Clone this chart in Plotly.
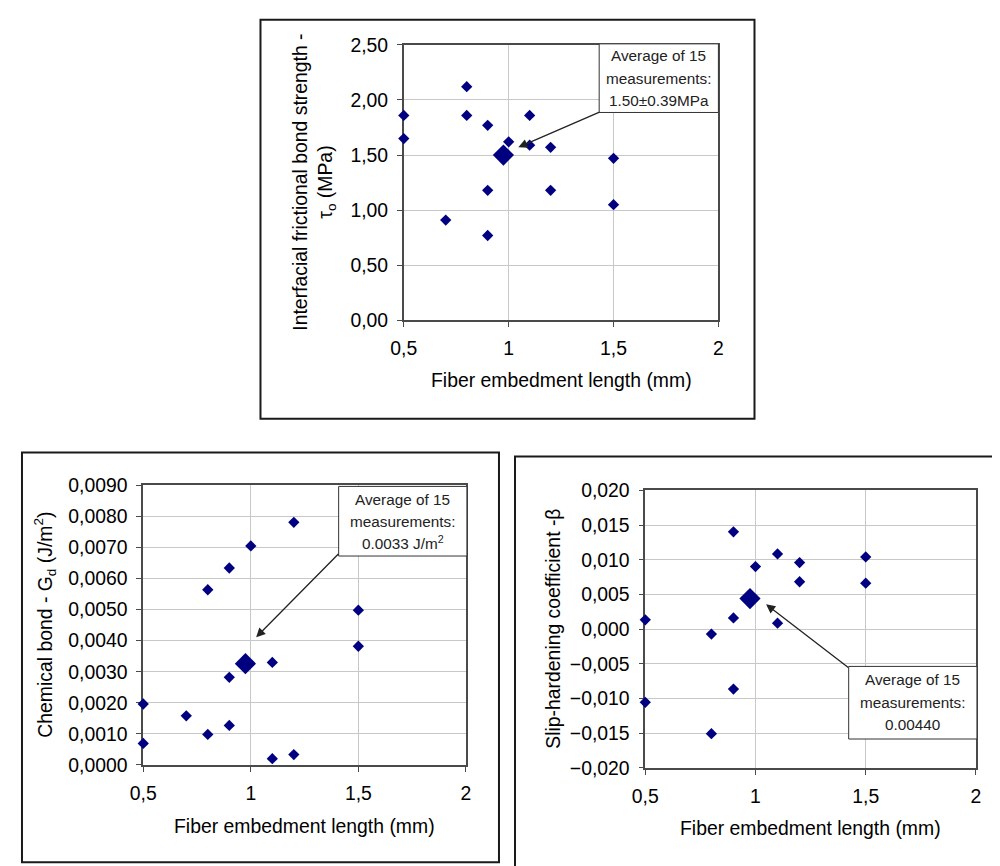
import plotly.graph_objects as go

W, H = 1000, 866

# ---------------- data ----------------
x_ticks = [0.5, 1, 1.5, 2]
x_ticklabels = ["0,5", "1", "1,5", "2"]

tau_x = [0.5, 0.5, 0.7, 0.8, 0.8, 0.9, 0.9, 0.9, 1.0, 1.1, 1.1, 1.2, 1.2, 1.5, 1.5]
tau_y = [1.86, 1.65, 0.91, 2.12, 1.86, 1.77, 1.18, 0.77, 1.62, 1.86, 1.59, 1.57, 1.18, 1.47, 1.05]
tau_avg_x = [0.975]
tau_avg_y = [1.50]

gd_x = [0.5, 0.5, 0.7, 0.8, 0.8, 0.9, 0.9, 0.9, 1.0, 1.1, 1.1, 1.2, 1.2, 1.5, 1.5]
gd_y = [0.00196, 0.00069, 0.00158, 0.00564, 0.00098, 0.00634, 0.00282, 0.00127,
        0.00705, 0.00330, 0.00020, 0.00781, 0.00033, 0.00498, 0.00382]
gd_avg_x = [0.975]
gd_avg_y = [0.00326]

beta_x = [0.5, 0.5, 0.8, 0.8, 0.9, 0.9, 0.9, 1.0, 1.1, 1.1, 1.2, 1.2, 1.5, 1.5]
beta_y = [0.00134, -0.01055, -0.00072, -0.01508, 0.01403, 0.00162, -0.00864,
          0.00902, 0.01084, 0.00086, 0.00959, 0.00683, 0.01041, 0.00663]
beta_avg_x = [0.975]
beta_avg_y = [0.00440]

tau_box_lines = ["Average of 15", "measurements:", "1.50±0.39MPa"]
gd_box_lines = ["Average of 15", "measurements:", "0.0033 J/m<sup>2</sup>"]
beta_box_lines = ["Average of 15", "measurements:", "0.00440"]

# ---------------- helpers ----------------
# the photographed page shows the figure slightly scaled and offset;
# these helpers map target picture pixels to paper coordinates.
S = 0.98
OX, OY = 22, 17

def fxp(x):
    return (x - OX) / S

def fyp(y):
    return (y - OY) / S

def px(x):
    return fxp(x) / W

def py(y):
    return 1 - fyp(y) / H

def k(v):
    return v / S

FONT = "Liberation Sans, Arial, sans-serif"
NAVY = "#000080"
GRID = "#c8c8c8"
AXC = "#4a4a4a"

fig = go.Figure()

def add_series(xs, ys, avx, avy, xa, ya):
    fig.add_trace(go.Scatter(x=xs, y=ys, mode="markers", xaxis=xa, yaxis=ya,
                             marker=dict(symbol="diamond", size=k(8.5), color=NAVY),
                             cliponaxis=False, showlegend=False))
    fig.add_trace(go.Scatter(x=avx, y=avy, mode="markers", xaxis=xa, yaxis=ya,
                             marker=dict(symbol="diamond", size=k(16), color=NAVY),
                             cliponaxis=False, showlegend=False))

add_series(tau_x, tau_y, tau_avg_x, tau_avg_y, "x", "y")
add_series(gd_x, gd_y, gd_avg_x, gd_avg_y, "x2", "y2")
add_series(beta_x, beta_y, beta_avg_x, beta_avg_y, "x3", "y3")

TICKFONT = dict(family=FONT, size=k(19), color="#000")

def xaxis_cfg(domain, anchor):
    return dict(domain=domain, anchor=anchor, range=[0.5, 2],
                tickvals=x_ticks, ticktext=x_ticklabels,
                showgrid=True, gridcolor=GRID, gridwidth=1, zeroline=False,
                showline=True, linecolor=AXC, linewidth=1.5, mirror=True,
                ticks="outside", ticklen=5, tickcolor=AXC, tickwidth=1.2,
                ticklabelstandoff=5, layer="below traces", tickfont=TICKFONT)

def yaxis_cfg(domain, anchor, rng, dtick, fmt):
    return dict(domain=domain, anchor=anchor, range=rng, dtick=dtick, tick0=rng[0],
                tickformat=fmt,
                showgrid=True, gridcolor=GRID, gridwidth=1, zeroline=False,
                showline=True, linecolor=AXC, linewidth=1.5, mirror=True,
                ticks="outside", ticklen=5, tickcolor=AXC, tickwidth=1.2,
                ticklabelstandoff=5, layer="below traces", tickfont=TICKFONT)

# plot-area geometry (target picture pixels)
top = dict(l=404, r=718, t=43, b=320)
bl = dict(l=144, r=466, t=486, b=767)
br = dict(l=645, r=975, t=491, b=770)

def dom(g):
    return [px(g["l"]), px(g["r"])], [py(g["b"]), py(g["t"])]

tdx, tdy = dom(top)
bldx, bldy = dom(bl)
brdx, brdy = dom(br)

fig.update_layout(
    xaxis=xaxis_cfg(tdx, "y"),
    yaxis=yaxis_cfg(tdy, "x", [0, 2.5], 0.5, ".2f"),
    xaxis2=xaxis_cfg(bldx, "y2"),
    yaxis2=yaxis_cfg(bldy, "x2", [0, 0.009], 0.001, ".4f"),
    xaxis3=xaxis_cfg(brdx, "y3"),
    yaxis3=yaxis_cfg(brdy, "x3", [-0.02, 0.02], 0.005, ".3f"),
)

def clamp(v):
    return min(max(v, 0.001), 0.999)

shapes = []
# panel frames
for (x0, y0, x1, y1) in [(261, 7, 754, 419), (7, 453, 499, 865), (515, 457, 1030, 890)]:
    shapes.append(dict(type="rect", xref="paper", yref="paper",
                       x0=clamp(px(x0)), x1=px(x1), y0=py(y1), y1=clamp(py(y0)),
                       line=dict(color="#1a1a1a", width=2), fillcolor="rgba(0,0,0,0)",
                       layer="above"))

annotations = []

def add_box(x0, y0, x1, y1, lines, line_ys, cx):
    shapes.append(dict(type="rect", xref="paper", yref="paper",
                       x0=px(x0), x1=px(x1), y0=py(y1), y1=py(y0),
                       line=dict(color="#333", width=1), fillcolor="white",
                       layer="above"))
    for t, ly in zip(lines, line_ys):
        annotations.append(dict(text=t, xref="paper", yref="paper",
                                x=px(cx), y=py(ly), xanchor="center", yanchor="middle",
                                showarrow=False,
                                font=dict(family=FONT, size=k(15), color="#222")))

add_box(599, 42, 718, 111, tau_box_lines, [54, 77, 99], 658.5)
add_box(339, 487, 467, 557, gd_box_lines, [500, 522, 543], 403)
add_box(848, 668, 976, 741, beta_box_lines, [681, 704, 726], 912)

def add_arrow(xref, yref, hx, hy, ax, ay):
    annotations.append(dict(text="", xref=xref, yref=yref, x=hx, y=hy,
                            showarrow=True, ax=k(ax), ay=k(ay), arrowhead=2,
                            arrowsize=1.4, arrowwidth=1.3, arrowcolor="#222",
                            standoff=0, startstandoff=0))

add_arrow("x", "y", 1.046, 1.571, 81, -35)
add_arrow("x2", "y2", 1.025, 0.00411, 82, -83)
add_arrow("x3", "y3", 1.048, 0.00358, 82, 63)

def add_title(text, cx, cy, angle=0):
    annotations.append(dict(text=text, xref="paper", yref="paper",
                            x=px(cx), y=py(cy), xanchor="center", yanchor="middle",
                            showarrow=False, textangle=angle,
                            font=dict(family=FONT, size=k(19), color="#000")))

add_title("Fiber embedment length (mm)", 561, 380)
add_title("Fiber embedment length (mm)", 305, 828)
add_title("Fiber embedment length (mm)", 810, 830)
add_title("Interfacial frictional bond strength -<br>τ<sub>o</sub> (MPa)", 314, 181, -90)
add_title("Chemical bond - G<sub>d</sub> (J/m<sup>2</sup>)", 46, 626, -90)
add_title("Slip-hardening coefficient -β", 553, 630, -90)

fig.update_layout(
    width=W, height=H,
    margin=dict(l=0, r=0, t=0, b=0),
    paper_bgcolor="white", plot_bgcolor="white",
    separators=",.",
    font=dict(family=FONT, size=k(19), color="#000"),
    shapes=shapes, annotations=annotations,
    showlegend=False,
)

fig.write_html("out.html")
